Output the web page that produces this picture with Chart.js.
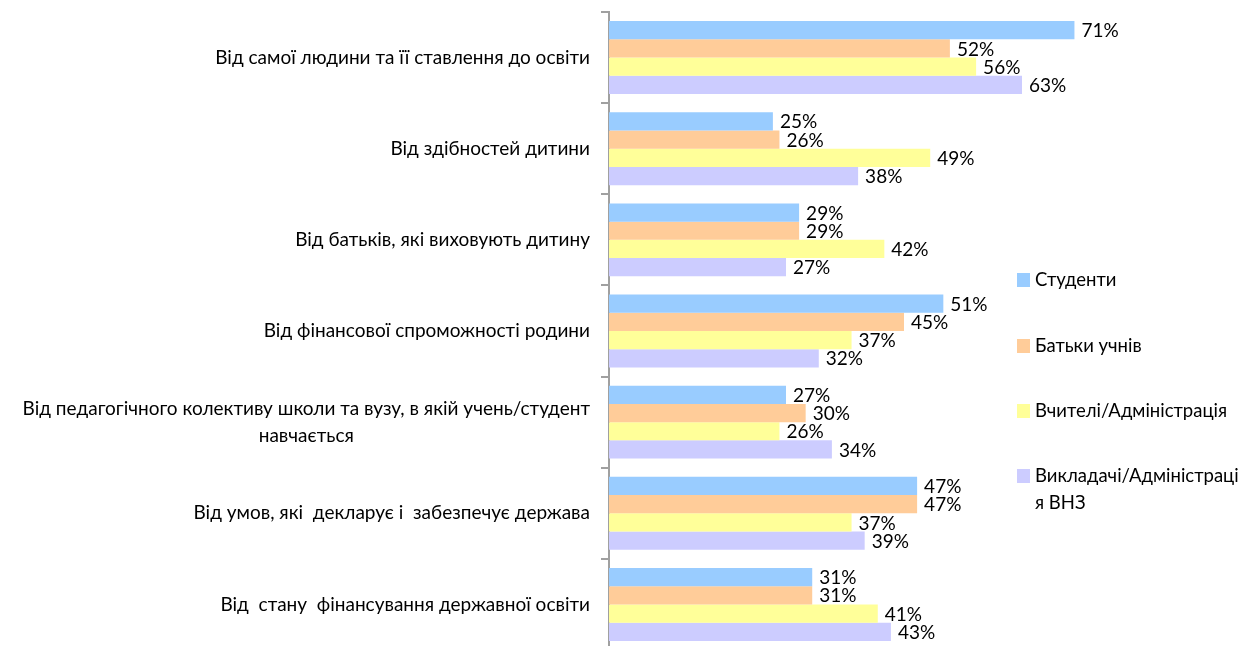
<!DOCTYPE html>
<html><head><meta charset="utf-8">
<script src="https://cdn.jsdelivr.net/npm/chart.js@4/dist/chart.umd.min.js"></script>
<style>html,body{margin:0;padding:0;background:#fff;overflow:hidden}#wrap{position:relative;width:1260px;height:652px}</style>
</head><body><div id="wrap"><canvas id="c"></canvas></div>
<script>
const categories = [
  "Від самої людини та її ставлення до освіти",
  "Від здібностей дитини",
  "Від батьків, які виховують дитину",
  "Від фінансової спроможності родини",
  ["Від педагогічного колективу школи та вузу, в якій учень/студент", "навчається"],
  "Від умов, які  декларує і  забезпечує держава",
  "Від  стану  фінансування державної освіти"
];
const seriesNames = ["Студенти", "Батьки учнів", "Вчителі/Адміністрація", "Викладачі/Адміністрація ВНЗ"];
const students = [71, 25, 29, 51, 27, 47, 31];
const parents  = [52, 26, 29, 45, 30, 47, 31];
const teachers = [56, 49, 42, 37, 26, 37, 41];
const lecturers = [63, 38, 27, 32, 34, 39, 43];
const colors = ["#99CCFF", "#FFCC99", "#FFFF99", "#CCCCFF"];

const FONT = "Lato, 'Open Sans', sans-serif";

const catLabels = {
  id: 'catLabels',
  afterDraw(chart) {
    const ctx = chart.ctx, y = chart.scales.y;
    ctx.save();
    ctx.font = "19px " + FONT;
    ctx.fillStyle = "#000";
    ctx.textBaseline = "middle";
    ctx.textAlign = "center";
    const right = y.right - 19, lh = 27;
    categories.forEach((c, i) => {
      const lines = Array.isArray(c) ? c : [c];
      const w = Math.max(...lines.map(l => ctx.measureText(l).width));
      const cx = right - w / 2;
      const cy = y.getPixelForValue(i);
      lines.forEach((l, k) => ctx.fillText(l, cx, cy + (k - (lines.length - 1) / 2) * lh));
    });
    ctx.restore();
  }
};

const valueLabels = {
  id: 'valueLabels',
  afterDatasetsDraw(chart) {
    const ctx = chart.ctx;
    ctx.save();
    ctx.font = "19px " + FONT;
    ctx.fillStyle = "#000";
    ctx.textBaseline = "middle";
    ctx.textAlign = "left";
    chart.data.datasets.forEach((ds, di) => {
      chart.getDatasetMeta(di).data.forEach((el, i) => {
        ctx.fillText(ds.data[i] + "%", el.x + 7, el.y + 1);
      });
    });
    ctx.restore();
  }
};

const legendPlugin = {
  id: 'customLegend',
  afterDraw(chart) {
    const ctx = chart.ctx;
    ctx.save();
    ctx.font = "18.5px " + FONT;
    ctx.textBaseline = "middle";
    ctx.textAlign = "left";
    const x0 = 1017, tx = 1035, maxW = 206;
    const ys = [280, 346, 411, 476];
    seriesNames.forEach((name, i) => {
      ctx.fillStyle = colors[i];
      ctx.fillRect(x0, ys[i] - 7, 13, 14);
      ctx.fillStyle = "#000";
      const lines = [];
      let cur = "";
      for (const ch of name) {
        if (ctx.measureText(cur + ch).width > maxW && cur) { lines.push(cur); cur = ch; }
        else cur += ch;
      }
      lines.push(cur);
      lines.forEach((l, k) => ctx.fillText(l.trimStart(), tx, ys[i] + k * 27));
    });
    ctx.restore();
  }
};

new Chart(document.getElementById('c'), {
  type: 'bar',
  data: {
    labels: categories.map(c => Array.isArray(c) ? c.join(' ') : c),
    datasets: [students, parents, teachers, lecturers].map((d, i) => ({
      label: seriesNames[i],
      data: d,
      backgroundColor: colors[i],
      borderWidth: 0,
      categoryPercentage: 0.8,
      barPercentage: 1.0
    }))
  },
  options: {
    indexAxis: 'y',
    responsive: true,
    maintainAspectRatio: false,
    animation: false,
    layout: { padding: { top: 12, bottom: 2, right: 61, left: 0 } },
    plugins: { legend: { display: false }, tooltip: { enabled: false } },
    scales: {
      x: { display: false, min: 0, max: 90 },
      y: {
        afterFit(scale) { scale.width = 609; },
        ticks: { display: false },
        grid: { offset: true, drawOnChartArea: false, drawTicks: true, tickLength: 8, color: '#A0A0A0', lineWidth: 2 },
        border: { display: true, color: '#A0A0A0', width: 2 }
      }
    }
  },
  plugins: [catLabels, valueLabels, legendPlugin]
});
</script></body></html>
